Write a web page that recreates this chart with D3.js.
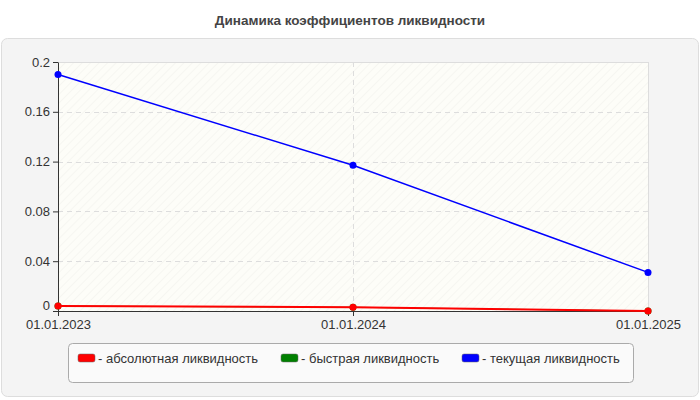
<!DOCTYPE html><html><head><meta charset="utf-8"><script src="https://cdn.jsdelivr.net/npm/d3@7"></script>
<style>body{margin:0;background:#fff;font-family:Arial,"Liberation Sans",sans-serif}</style></head><body><svg id="c" width="700" height="400"></svg><script>
const categories=["01.01.2023","01.01.2024","01.01.2025"];
const absolute=[0.004,0.003,0.0];
const quick=[0.004,0.003,0.0];
const current=[0.19,0.117,0.031];
const yTicks=[0,0.04,0.08,0.12,0.16,0.2];
const seriesNames=["- абсолютная ликвидность","- быстрая ликвидность","- текущая ликвидность"];
const colors=["#ff0000","#008000","#0000ff"];
const svg=d3.select("#c");
svg.append("text").attr("x",350).attr("y",25).attr("text-anchor","middle").attr("font-size",13.5).attr("font-weight","bold").attr("fill","#444").text("Динамика коэффициентов ликвидности");
svg.append("rect").attr("x",1.5).attr("y",38.5).attr("width",697).attr("height",358).attr("rx",6).attr("fill","#f4f4f4").attr("stroke","#ddd");
const x=d3.scalePoint().domain(categories).range([58,648]);
const y=d3.scaleLinear().domain([0,0.2]).range([311,62]);
const defs=svg.append("defs");
const p=defs.append("pattern").attr("id","h").attr("width",6).attr("height",6).attr("patternUnits","userSpaceOnUse").attr("patternTransform","rotate(45)");
p.append("rect").attr("width",6).attr("height",6).attr("fill","#fdfdf8");
p.append("line").attr("x1",0).attr("y1",0).attr("x2",0).attr("y2",6).attr("stroke","#efefeb").attr("stroke-width",1);
svg.append("rect").attr("x",58).attr("y",62).attr("width",590).attr("height",249).attr("fill","url(#h)");
svg.append("line").attr("x1",58).attr("x2",648).attr("y1",62.5).attr("y2",62.5).attr("stroke","#ddd");
svg.append("line").attr("x1",648.5).attr("x2",648.5).attr("y1",62).attr("y2",311).attr("stroke","#ddd");
yTicks.slice(1,-1).forEach(t=>svg.append("line").attr("x1",58).attr("x2",648).attr("y1",Math.round(y(t))+.5).attr("y2",Math.round(y(t))+.5).attr("stroke","#ddd").attr("stroke-dasharray","5,4"));
categories.slice(1,-1).forEach(c=>svg.append("line").attr("x1",x(c)+.5).attr("x2",x(c)+.5).attr("y1",62).attr("y2",311).attr("stroke","#ddd").attr("stroke-dasharray","5,4"));
const ya=svg.append("g").attr("transform","translate(58,0)").call(d3.axisLeft(y).tickValues(yTicks).tickFormat(d=>String(+d.toFixed(2))).tickSize(5).tickSizeOuter(0));
const xa=svg.append("g").attr("transform","translate(0,311)").call(d3.axisBottom(x).tickSize(5).tickSizeOuter(0));
[ya,xa].forEach(a=>{a.selectAll("path,line").attr("stroke","#333");a.selectAll("text").attr("font-size",13).attr("fill","#333").attr("font-family","Arial,'Liberation Sans',sans-serif");});
ya.selectAll("text").filter(d=>d===0).attr("dy","-0.1em");
xa.selectAll("text").attr("y",9);
const line=d3.line().x((d,i)=>x(categories[i])).y(d=>y(d));
[[quick,1,0.8],[absolute,0,2],[current,2,1.5]].forEach(([s,k,w])=>{
 svg.append("path").datum(s).attr("d",line).attr("fill","none").attr("stroke",colors[k]).attr("stroke-width",w);
 svg.selectAll(null).data(s).enter().append("circle").attr("cx",(d,i)=>x(categories[i])).attr("cy",d=>y(d)).attr("r",3.5).attr("fill",colors[k]);
});
svg.append("rect").attr("x",68.5).attr("y",343.5).attr("width",565).attr("height",39).attr("rx",4).attr("fill","#fafafa").attr("stroke","#aaa");
const lx=[78,281,462];
seriesNames.forEach((n,i)=>{
 svg.append("rect").attr("x",lx[i]).attr("y",354).attr("width",17).attr("height",8).attr("rx",2).attr("fill",colors[i]).attr("stroke","#666").attr("stroke-width",0.5);
 svg.append("text").attr("x",lx[i]+20).attr("y",363).attr("font-size",13).attr("fill","#333").text(n);
});
</script></body></html>
